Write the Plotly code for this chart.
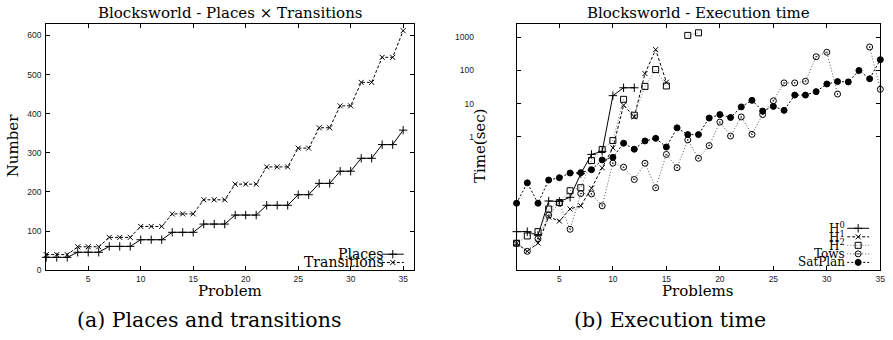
import plotly.graph_objects as go

# ---------------- data ----------------
problems = list(range(1, 36))

places = [33, 33, 33, 46, 46, 46, 61, 61, 61, 78, 78, 78, 97, 97, 97,
          118, 118, 118, 141, 141, 141, 166, 166, 166, 193, 193, 222, 222,
          253, 253, 286, 286, 321, 321, 358]
transitions = [40, 40, 40, 60, 60, 60, 84, 84, 84, 112, 112, 112, 144, 144, 144,
               180, 180, 180, 220, 220, 220, 264, 264, 264, 312, 312, 364, 364,
               420, 420, 480, 480, 544, 544, 612]

h0 = [0.00144, 0.00144, 0.00112, 0.012, 0.0116, 0.0155, 0.079, 0.30, 0.37,
      17.4, 30, 30]
h1 = [0.00065, 0.00037, 0.00065, 0.004, 0.003, 0.0069, 0.0086, 0.029, 0.119,
      0.47, 9.0, 4.0, 80, 420, 44]
h2 = [0.00065, 0.00107, 0.00144, 0.0069, 0.0108, 0.0244, 0.030, 0.196, 0.42,
      0.78, 13.5, 4.5, 33, 106, 34, None, 1120, 1340]
tows = [0.00065, 0.00037, 0.00089, 0.0045, 0.0103, 0.0017, 0.020, 0.0195, 0.0086,
        0.165, 0.124, 0.053, 0.163, 0.030, 0.30, 0.12, 0.82, 0.23, 0.55, 2.8,
        1.07, 4.0, 1.2, 4.7, 12.2, 42, 42, 47, 256, 350, 19.5, None, None, 503, 27]
satplan = [0.0103, 0.042, 0.0103, 0.051, 0.060, 0.083, 0.085, 0.104, 0.205, 0.245,
           0.65, 0.43, 0.76, 0.91, 0.50, 1.88, 1.18, 1.18, 3.7, 4.7, 3.85, 8.0,
           12.6, 6.0, 8.3, 6.3, 18.1, 18.1, 23, 39, 46, 45, 99, 56, 209]

x_ticks = [5, 10, 15, 20, 25, 30, 35]
left_y_ticks = [0, 100, 200, 300, 400, 500, 600]
right_y_ticks = [1, 10, 100, 1000]
right_y_labels = ["1", "10", "100", "1000"]

# ---------------- styling ----------------
W, H = 893, 340
SERIF = "DejaVu Serif"
SANS = "Liberation Sans"
BLACK = "#000000"

def fx(px):
    return px / W

def fy(py):
    return 1 - py / H

series_left = [
    dict(name="Places", y=places, dash="solid", color=BLACK, symbol="cross-thin-open", size=6),
    dict(name="Transitions", y=transitions, dash="3px,2px", color=BLACK, symbol="x-thin-open", size=5),
]
series_right = [
    dict(name="H<sup>0</sup>", y=h0, dash="solid", color=BLACK, symbol="cross-thin-open", size=6),
    dict(name="H<sup>1</sup>", y=h1, dash="3px,2px", color=BLACK, symbol="x-thin-open", size=5),
    dict(name="H<sup>2</sup>", y=h2, dash="1px,2px", color="#777777", symbol="square-open", size=6),
    dict(name="Tows", y=tows, dash="1px,2px", color="#555555", symbol="circle-open-dot", size=6),
    dict(name="SatPlan", y=satplan, dash="2px,2px", color=BLACK, symbol="circle", size=6),
]

fig = go.Figure()

for s, xa, ya in [(s, "x", "y") for s in series_left] + [(s, "x2", "y2") for s in series_right]:
    fig.add_trace(go.Scatter(
        x=problems[:len(s["y"])], y=s["y"], xaxis=xa, yaxis=ya,
        mode="lines+markers", name=s["name"], showlegend=False,
        connectgaps=False, cliponaxis=False,
        line=dict(color=s["color"], width=1, dash=s["dash"]),
        marker=dict(symbol=s["symbol"], size=s["size"], color=BLACK,
                    line=dict(color=BLACK, width=1)),
    ))

# ---------------- gnuplot-style keys (text left, sample right) ----------------
annotations = []

def add_key(series, rows_y, text_right, x0, x1, fsize):
    for s, yy in zip(series, rows_y):
        fig.add_trace(go.Scatter(
            x=[x0, x1], y=[yy, yy], xaxis="x3", yaxis="y3", mode="lines",
            showlegend=False, hoverinfo="skip",
            line=dict(color=s["color"], width=1, dash=s["dash"])))
        fig.add_trace(go.Scatter(
            x=[(x0 + x1) / 2], y=[yy], xaxis="x3", yaxis="y3", mode="markers",
            showlegend=False, hoverinfo="skip",
            marker=dict(symbol=s["symbol"], size=s["size"], color=BLACK,
                        line=dict(color=BLACK, width=1))))
        annotations.append(dict(
            x=fx(text_right), y=fy(yy), xref="paper", yref="paper",
            xanchor="right", yanchor="middle", showarrow=False,
            text=s["name"], font=dict(family=SERIF, size=fsize, color=BLACK)))

add_key(series_left, [258.0, 266.4], 388, 384, 406, 14)
add_key(series_right, [231.7 + i * 8.65 for i in range(5)], 852, 852, 874, 12)

# ---------------- titles / labels ----------------
def txt(x, y, t, size, angle=0):
    annotations.append(dict(
        x=fx(x), y=fy(y), xref="paper", yref="paper", xanchor="center",
        yanchor="middle", showarrow=False, text=t, textangle=angle,
        font=dict(family=SERIF, size=size, color=BLACK)))

txt(231.7, 13.5, "Blocksworld - Places × Transitions", 15)
txt(702.8, 13.5, "Blocksworld - Execution time", 15)
txt(231.5, 295, "Problem", 15)
txt(702.0, 295, "Problems", 15)
txt(12.5, 148, "Number", 15, -90)
txt(483.0, 148, "Time(sec)", 15, -90)
txt(209.7, 325, "(a) Places and transitions", 20.5)
txt(674.0, 325, "(b) Execution time", 20.5)

axis_common = dict(
    showline=True, linecolor=BLACK, linewidth=1, mirror="ticks",
    ticks="inside", ticklen=4, tickcolor=BLACK, tickwidth=1,
    showgrid=False, zeroline=False, ticklabeloverflow="allow",
    tickfont=dict(family=SANS, size=8.5, color="#222222"),
)

ydom = [fy(274.3), fy(24)]
fig.update_layout(
    width=W, height=H,
    margin=dict(l=0, r=0, t=0, b=0),
    paper_bgcolor="white", plot_bgcolor="rgba(0,0,0,0)",
    xaxis=dict(domain=[fx(46.5), fx(416)], range=[1, 36], tickvals=x_ticks,
               anchor="y", ticklabelstandoff=1, **axis_common),
    yaxis=dict(domain=ydom, range=[0, 630], tickvals=left_y_ticks,
               anchor="x", ticklabelstandoff=2, **axis_common),
    xaxis2=dict(domain=[fx(519.5), fx(885.3)], range=[1, 35], tickvals=x_ticks,
                anchor="y2", ticklabelstandoff=1, **axis_common),
    yaxis2=dict(domain=ydom, type="log", range=[-4, 3.402],
                tickvals=right_y_ticks, ticktext=right_y_labels,
                anchor="x2", ticklabelstandoff=40, **axis_common),
    xaxis3=dict(domain=[0, 1], range=[0, W], visible=False, fixedrange=True, anchor="y3"),
    yaxis3=dict(domain=[0, 1], range=[H, 0], visible=False, fixedrange=True, anchor="x3"),
    annotations=annotations,
    showlegend=False,
)

# remove the browser's default 8px body margin so the figure fills the window
fig.write_html("out.html", config={"displayModeBar": False},
               post_script="document.body.style.margin='0';")
